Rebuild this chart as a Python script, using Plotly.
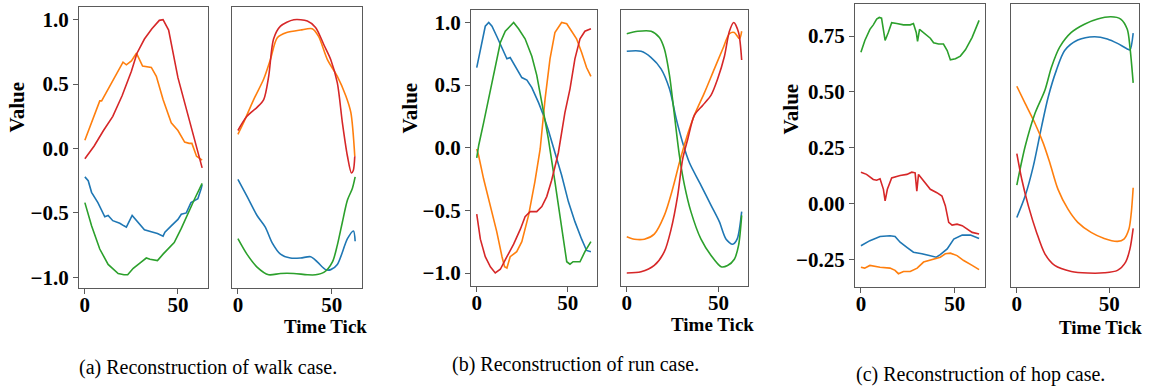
import numpy as np
import plotly.graph_objects as go

W, H = 1152, 392
BLUE, ORANGE, GREEN, RED = "#1f77b4", "#ff7f0e", "#2ca02c", "#d62728"

# ---------------- (a) walk: original (left) ----------------
walk_orig_blue_x = [0, 1.8, 3.6, 7, 10.7, 12.5, 15, 18.75, 21, 22.3, 25.4, 28.6, 32, 36.6, 39, 42, 43, 46.4, 50, 51.8, 54.5, 57, 60.7, 62.5, 63]
walk_orig_blue_y = [-0.22, -0.25, -0.34, -0.42, -0.53, -0.52, -0.56, -0.58, -0.60, -0.61, -0.52, -0.57, -0.63, -0.65, -0.66, -0.68, -0.65, -0.60, -0.55, -0.51, -0.50, -0.42, -0.39, -0.31, -0.28]
walk_orig_orange_x = [0, 1.5, 3.6, 6, 8, 9, 12.5, 16, 20.5, 22.3, 25, 27.7, 29, 31, 35.7, 38.4, 42, 46.4, 50, 53.6, 56, 57.5, 60, 62.5, 63]
walk_orig_orange_y = [0.065, 0.12, 0.20, 0.30, 0.37, 0.37, 0.46, 0.55, 0.67, 0.65, 0.68, 0.74, 0.70, 0.64, 0.63, 0.56, 0.38, 0.20, 0.14, 0.05, 0.04, 0.04, -0.06, -0.08, -0.09]
walk_orig_green_x = [0, 3.6, 8, 12.5, 17.9, 21, 23, 26, 30.4, 33, 35, 39, 42, 46.4, 48, 51.8, 55.4, 59, 63]
walk_orig_green_y = [-0.42, -0.60, -0.78, -0.90, -0.97, -0.98, -0.98, -0.93, -0.88, -0.85, -0.86, -0.87, -0.82, -0.75, -0.73, -0.62, -0.50, -0.39, -0.27]
walk_orig_red_x = [0, 5, 10, 15, 20, 25, 28, 32, 36, 40, 42, 45, 50, 55, 60, 63]
walk_orig_red_y = [-0.08, 0.02, 0.14, 0.25, 0.41, 0.60, 0.74, 0.85, 0.93, 0.995, 1.0, 0.92, 0.55, 0.28, 0.02, -0.15]

# ---------------- (a) walk: reconstruction (right) ----------------
walk_rec_blue_x = [0, 4.8, 10.2, 14.6, 18.2, 22.7, 28, 33.4, 38.75, 42.3, 46.8, 49.5, 53, 58.4, 61.6, 62.5]
walk_rec_blue_y = [-0.24, -0.37, -0.52, -0.61, -0.73, -0.82, -0.85, -0.85, -0.84, -0.88, -0.94, -0.94, -0.90, -0.70, -0.64, -0.72]
walk_rec_orange_x = [0, 3, 8.4, 13.75, 17.3, 21, 26, 33.4, 39.6, 43, 47.7, 53, 57.5, 60.2, 62.3]
walk_rec_orange_y = [0.11, 0.20, 0.38, 0.54, 0.69, 0.86, 0.90, 0.92, 0.93, 0.87, 0.69, 0.56, 0.41, 0.28, -0.06]
walk_rec_green_x = [0, 4.8, 10.2, 16.4, 22.7, 29.8, 37, 41.4, 46, 50.4, 53, 55.7, 58.4, 61, 62.5]
walk_rec_green_y = [-0.70, -0.82, -0.92, -0.98, -0.97, -0.97, -0.98, -0.98, -0.96, -0.88, -0.75, -0.57, -0.40, -0.31, -0.22]
walk_rec_red_x = [0, 4.8, 10.2, 13.75, 16.4, 19, 22.7, 29.8, 37, 41.4, 46, 49.5, 53, 55.7, 58.4, 60.5, 61.5, 62.3]
walk_rec_red_y = [0.14, 0.25, 0.32, 0.38, 0.56, 0.85, 0.95, 1.0, 0.99, 0.94, 0.80, 0.69, 0.51, 0.20, -0.06, -0.19, -0.17, -0.06]

# ---------------- (b) run: original (left) ----------------
run_orig_blue_x = [0, 2, 4.7, 6.6, 8.4, 11, 13.9, 16.6, 18.4, 21, 24.8, 27.6, 30.3, 34, 36.7, 39.4, 43, 46.7, 50.4, 54, 57.7, 60.4, 62.8]
run_orig_blue_y = [0.64, 0.79, 0.97, 1.0, 0.97, 0.89, 0.80, 0.71, 0.72, 0.65, 0.56, 0.54, 0.48, 0.36, 0.26, 0.14, -0.04, -0.22, -0.43, -0.59, -0.73, -0.82, -0.83]
run_orig_orange_x = [0, 1, 3.8, 7.5, 11, 13.9, 15.3, 16.6, 18.4, 22, 24.8, 28.5, 32, 34.9, 37.6, 40.3, 43, 46.7, 49.5, 52.2, 54.9, 57.7, 60.4, 62.8]
run_orig_orange_y = [-0.01, -0.06, -0.25, -0.46, -0.67, -0.87, -0.95, -0.96, -0.87, -0.83, -0.75, -0.54, -0.27, -0.01, 0.39, 0.71, 0.92, 1.0, 0.99, 0.93, 0.87, 0.76, 0.64, 0.57]
run_orig_green_x = [0, 1.1, 3.8, 6.6, 10.2, 13, 15.7, 20.3, 23, 26.6, 30.3, 33, 35.8, 39.4, 43, 46.7, 49.5, 51.3, 53, 56.8, 59.5, 62.8]
run_orig_green_y = [-0.08, 0.02, 0.20, 0.40, 0.63, 0.84, 0.93, 1.0, 0.95, 0.87, 0.73, 0.58, 0.36, 0.07, -0.27, -0.65, -0.91, -0.93, -0.91, -0.91, -0.83, -0.75]
run_orig_red_x = [0, 2, 4.7, 7.5, 10.2, 13, 16.6, 20.3, 24, 26.6, 29.4, 33, 35.8, 38.5, 41.2, 44.9, 48.5, 51.3, 54, 56.8, 59.5, 62.8]
run_orig_red_y = [-0.53, -0.73, -0.87, -0.95, -1.0, -0.97, -0.87, -0.77, -0.65, -0.55, -0.51, -0.51, -0.47, -0.39, -0.26, -0.04, 0.28, 0.47, 0.71, 0.87, 0.93, 0.95]

# ---------------- (b) run: reconstruction (right) ----------------
run_rec_blue_x = [0, 7.8, 13.3, 18.7, 23.3, 27, 30.5, 34.2, 40.5, 46, 50.5, 54.2, 57.8, 60.2, 62.7]
run_rec_blue_y = [0.77, 0.77, 0.72, 0.63, 0.47, 0.23, 0.04, -0.12, -0.30, -0.46, -0.59, -0.73, -0.77, -0.73, -0.51]
run_rec_orange_x = [0, 4.2, 9.6, 15, 20.5, 25, 28.7, 32.4, 36.9, 42.4, 47.8, 52.4, 56, 58.7, 61.5, 62.7]
run_rec_orange_y = [-0.71, -0.73, -0.73, -0.69, -0.54, -0.33, -0.12, 0.07, 0.26, 0.44, 0.63, 0.79, 0.91, 0.92, 0.87, 0.93]
run_rec_green_x = [0, 6, 13.3, 17.8, 20.5, 23.3, 26, 28.7, 31.5, 35, 40.5, 46, 51.5, 55, 58.7, 61, 62.7]
run_rec_green_y = [0.91, 0.93, 0.93, 0.88, 0.79, 0.58, 0.26, -0.06, -0.30, -0.51, -0.73, -0.86, -0.95, -0.94, -0.89, -0.78, -0.54]
run_rec_red_x = [0, 7.8, 15, 20.5, 24.2, 27.8, 30.5, 33.3, 36.9, 41.5, 46, 49.6, 53.3, 56, 58.4, 61, 62.7]
run_rec_red_y = [-1.0, -0.99, -0.94, -0.83, -0.65, -0.38, -0.09, 0.07, 0.26, 0.34, 0.42, 0.55, 0.73, 0.93, 1.0, 0.92, 0.70]

# ---------------- (c) hop: original (left) ----------------
hop_orig_blue_x = [0, 4.8, 10.2, 12.9, 15.5, 18.2, 20.9, 24.5, 28, 32.5, 37, 40.2, 42.3, 46, 49.5, 54, 58.4, 63]
hop_orig_blue_y = [-0.19, -0.167, -0.148, -0.145, -0.145, -0.148, -0.174, -0.197, -0.219, -0.226, -0.234, -0.241, -0.23, -0.204, -0.16, -0.142, -0.142, -0.157]
hop_orig_orange_x = [0, 2, 4.8, 10.2, 15.5, 18.2, 20, 22.7, 26.3, 30, 33.4, 37, 39.6, 42.3, 45, 47.7, 51.25, 54.8, 59.3, 63]
hop_orig_orange_y = [-0.286, -0.29, -0.278, -0.286, -0.29, -0.30, -0.315, -0.305, -0.305, -0.29, -0.263, -0.253, -0.248, -0.241, -0.226, -0.223, -0.234, -0.256, -0.278, -0.297]
hop_orig_green_x = [0, 2.1, 4.8, 6.6, 8.4, 9.8, 11, 12, 12.9, 14.6, 16.4, 19.1, 22.7, 26.3, 28, 29.5, 30.2, 31.25, 34.3, 37, 38.75, 41.4, 44, 46, 47.7, 50.4, 53, 55.7, 59.3, 63]
hop_orig_green_y = [0.677, 0.73, 0.78, 0.80, 0.826, 0.833, 0.83, 0.766, 0.73, 0.766, 0.81, 0.806, 0.80, 0.80, 0.806, 0.766, 0.726, 0.78, 0.76, 0.74, 0.72, 0.714, 0.714, 0.685, 0.643, 0.648, 0.66, 0.688, 0.744, 0.82]
hop_orig_red_x = [0, 3, 6.6, 8.4, 10.2, 12, 12.9, 14.1, 16.4, 20.9, 24.5, 27.1, 28.9, 29.8, 30.7, 33.4, 37, 40.5, 43.2, 45, 46.8, 48.6, 51.25, 54, 56.6, 59.3, 63]
hop_orig_red_y = [0.14, 0.13, 0.107, 0.104, 0.11, 0.063, 0.011, 0.063, 0.114, 0.125, 0.13, 0.14, 0.137, 0.055, 0.13, 0.10, 0.063, 0.048, 0.033, -0.01, -0.085, -0.097, -0.093, -0.10, -0.115, -0.13, -0.137]

# ---------------- (c) hop: reconstruction (right) ----------------
hop_rec_blue_x = [0, 4.5, 8.9, 13.4, 17, 21.4, 25.9, 33, 42, 49, 54.5, 59.8, 61.25, 63]
hop_rec_blue_y = [-0.063, 0.033, 0.166, 0.344, 0.477, 0.596, 0.685, 0.732, 0.747, 0.737, 0.717, 0.692, 0.688, 0.763]
hop_rec_orange_x = [0, 4.5, 9.8, 14.3, 17.9, 22.3, 27.7, 33, 40.2, 47.3, 54.5, 58, 60.7, 62, 63]
hop_rec_orange_y = [0.525, 0.448, 0.359, 0.27, 0.181, 0.063, -0.026, -0.085, -0.13, -0.157, -0.17, -0.16, -0.115, -0.04, 0.07]
hop_rec_green_x = [0, 4.5, 9.8, 15.2, 18.75, 23.2, 29.5, 36.6, 43.75, 50.9, 56.25, 59.8, 61.25, 63]
hop_rec_green_y = [0.082, 0.255, 0.403, 0.507, 0.61, 0.70, 0.766, 0.803, 0.826, 0.836, 0.826, 0.78, 0.70, 0.54]
hop_rec_red_x = [0, 2.7, 6.25, 10.7, 15.2, 20.5, 29.5, 38.4, 47.3, 54.5, 58.9, 61.25, 63]
hop_rec_red_y = [0.223, 0.107, -0.011, -0.13, -0.226, -0.278, -0.305, -0.312, -0.311, -0.30, -0.263, -0.204, -0.112]

x_ticks = [0, 50]
walk_run_y_ticks = [-1.0, -0.5, 0.0, 0.5, 1.0]
hop_y_ticks = [-0.25, 0.0, 0.25, 0.5, 0.75]
captions = ["(a) Reconstruction of walk case.", "(b) Reconstruction of run case.", "(c) Reconstruction of hop case."]

colors = [BLUE, ORANGE, GREEN, RED]
panels = [
    dict(series=[(walk_orig_blue_x, walk_orig_blue_y), (walk_orig_orange_x, walk_orig_orange_y), (walk_orig_green_x, walk_orig_green_y), (walk_orig_red_x, walk_orig_red_y)], smooth=False),
    dict(series=[(walk_rec_blue_x, walk_rec_blue_y), (walk_rec_orange_x, walk_rec_orange_y), (walk_rec_green_x, walk_rec_green_y), (walk_rec_red_x, walk_rec_red_y)], smooth=True),
    dict(series=[(run_orig_blue_x, run_orig_blue_y), (run_orig_orange_x, run_orig_orange_y), (run_orig_green_x, run_orig_green_y), (run_orig_red_x, run_orig_red_y)], smooth=False),
    dict(series=[(run_rec_blue_x, run_rec_blue_y), (run_rec_orange_x, run_rec_orange_y), (run_rec_green_x, run_rec_green_y), (run_rec_red_x, run_rec_red_y)], smooth=True),
    dict(series=[(hop_orig_blue_x, hop_orig_blue_y), (hop_orig_orange_x, hop_orig_orange_y), (hop_orig_green_x, hop_orig_green_y), (hop_orig_red_x, hop_orig_red_y)], smooth=False),
    dict(series=[(hop_rec_blue_x, hop_rec_blue_y), (hop_rec_orange_x, hop_rec_orange_y), (hop_rec_green_x, hop_rec_green_y), (hop_rec_red_x, hop_rec_red_y)], smooth=True),
]

# pixel boxes (left, right, top, bottom)
boxes = [(79, 208, 7, 289), (232, 362, 7, 289),
         (471, 597, 10, 287), (621, 748, 10, 287),
         (855, 985, 4, 288), (1011, 1139, 4, 288)]

FONT = "Liberation Serif"
AXCOL = "#5a5a5a"
TICKSIZE = 21


def fmt(v, dec):
    s = f"{abs(v):.{dec}f}"
    return "<b>" + ("\u2212" + s if v < 0 else s) + "</b>"


fig = go.Figure()
layout = dict(width=W, height=H, margin=dict(l=0, r=0, t=0, b=0),
              plot_bgcolor="white", paper_bgcolor="white", showlegend=False,
              font=dict(family=FONT, color="black"))

for i, p in enumerate(panels):
    n = i + 1
    xa = "x" if n == 1 else f"x{n}"
    ya = "y" if n == 1 else f"y{n}"
    for (xs, ys), c in zip(p["series"], colors):
        fig.add_trace(go.Scatter(x=xs, y=ys, mode="lines", xaxis=xa, yaxis=ya,
                                 line=dict(color=c, width=1.6,
                                           shape="spline" if p["smooth"] else "linear",
                                           smoothing=0.8)))
    group = i // 2
    left_panel = (i % 2 == 0)
    gvals = []
    for q in panels[2 * group: 2 * group + 2]:
        for xs, ys in q["series"]:
            gvals += ys
    lo, hi = min(gvals), max(gvals)
    pad = 0.05 * (hi - lo)
    l, r, t, b = boxes[i]
    ticks_y = hop_y_ticks if group == 2 else walk_run_y_ticks
    dec = 2 if group == 2 else 1
    layout["xaxis" + ("" if n == 1 else str(n))] = dict(
        domain=[l / W, r / W], anchor=ya, range=[-3.15, 66.15],
        tickvals=x_ticks, ticktext=[fmt(v, 0) for v in x_ticks],
        ticks="outside", ticklen=5, tickcolor=AXCOL, ticklabelstandoff=-7,
        showline=True, mirror=True, linecolor=AXCOL, linewidth=1.2,
        showgrid=False, zeroline=False,
        tickfont=dict(family=FONT, size=TICKSIZE, color="black"))
    layout["yaxis" + ("" if n == 1 else str(n))] = dict(
        domain=[1 - b / H, 1 - t / H], anchor=xa, range=[lo - pad, hi + pad],
        tickvals=ticks_y, ticktext=[fmt(v, dec) for v in ticks_y],
        ticks="outside" if left_panel else "", ticklen=5, tickcolor=AXCOL,
        showticklabels=left_panel,
        showline=True, mirror=True, linecolor=AXCOL, linewidth=1.2,
        showgrid=False, zeroline=False,
        tickfont=dict(family=FONT, size=TICKSIZE, color="black"))

ann = []
value_pos = [(17, 108), (410, 109), (791, 110)]
time_pos = [(325, 328), (712, 326), (1100, 329)]
cap_pos = [(208, 369), (575, 366), (980, 376)]
for (vx, vy) in value_pos:
    ann.append(dict(text="<b>Value</b>", x=vx / W, y=1 - vy / H, xref="paper", yref="paper",
                    showarrow=False, textangle=-90, font=dict(family=FONT, size=21, color="black"),
                    xanchor="center", yanchor="middle"))
for (tx, ty) in time_pos:
    ann.append(dict(text="<b>Time Tick</b>", x=tx / W, y=1 - ty / H, xref="paper", yref="paper",
                    showarrow=False, font=dict(family=FONT, size=19, color="black"),
                    xanchor="center", yanchor="middle"))
for (cx, cy), txt in zip(cap_pos, captions):
    ann.append(dict(text=txt, x=cx / W, y=1 - cy / H, xref="paper", yref="paper",
                    showarrow=False, font=dict(family=FONT, size=20, color="black"),
                    xanchor="center", yanchor="middle"))
layout["annotations"] = ann
fig.update_layout(**layout)
fig.write_html("out.html")
